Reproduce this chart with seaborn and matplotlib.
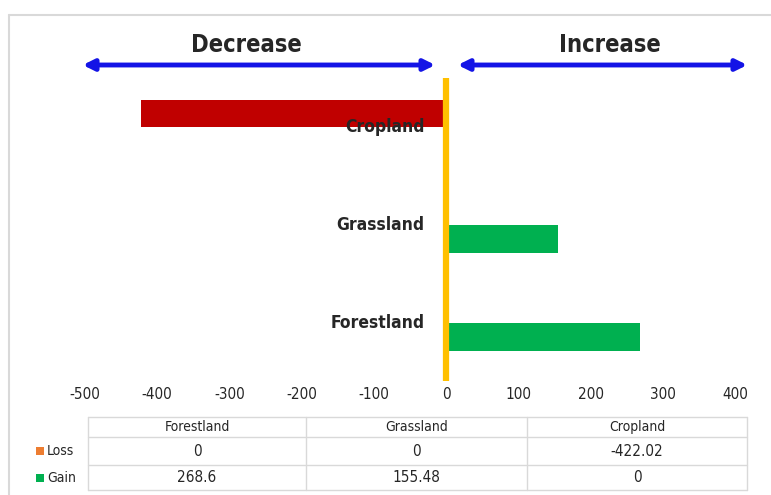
import matplotlib
matplotlib.use("Agg")
import matplotlib.pyplot as plt
from matplotlib import font_manager
from matplotlib.patches import Rectangle, FancyArrowPatch
from matplotlib.lines import Line2D
import seaborn as sns
import pandas as pd

# ---- data ----
land_types = ["Forestland", "Grassland", "Cropland"]
loss_values = [0, 0, -422.02]
gain_values = [268.6, 155.48, 0]
series_names = ["Loss", "Gain"]
x_ticks = [-500, -400, -300, -200, -100, 0, 100, 200, 300, 400]
direction_labels = ["Decrease", "Increase"]

W, H = 771, 495

sns.set_theme(style="white")
plt.rcParams["font.family"] = ["DejaVu Sans"]
plt.rcParams["font.stretch"] = "condensed"

df = pd.DataFrame({
    "land": land_types * 2,
    "series": ["Loss"] * 3 + ["Gain"] * 3,
    "value": loss_values + gain_values,
})

fig = plt.figure(figsize=(W / 100, H / 100), dpi=100)
fig.patch.set_facecolor("white")


def fx(x):
    return x / W


def fy(y):
    return 1 - y / H


ax_l, ax_r, ax_t, ax_b = 85, 735, 78, 381
ax = fig.add_axes([fx(ax_l), fy(ax_b), fx(ax_r) - fx(ax_l), fy(ax_t) - fy(ax_b)])

plot_order = ["Cropland", "Grassland", "Forestland"]
sns.barplot(data=df, x="value", y="land", hue="series", order=plot_order,
            hue_order=series_names, palette={"Loss": "#C00000", "Gain": "#00B050"},
            width=0.57, gap=0, saturation=1, linewidth=0, legend=False, ax=ax,
            errorbar=None)

ax.set_xlim(-500, 400)
ax.set_ylim(2.587, -0.505)
ax.axvline(0, color="#FFC000", lw=4.5, zorder=5)

ax.set_xticks(x_ticks)
ax.set_xticklabels([str(t) for t in x_ticks], fontsize=11, color="#262626",
                   fontstretch="condensed")
ax.tick_params(axis="x", length=0, pad=4)
ax.set_yticks([])
ax.set_xlabel("")
ax.set_ylabel("")
for s in ax.spines.values():
    s.set_visible(False)

# category names beside the zero line
for i, name in enumerate(plot_order):
    ax.text(-30, i, name, ha="right", va="center", fontsize=12.5,
            fontweight="bold", fontstretch="condensed", color="#262626", zorder=6)

# outer chart border
fig.add_artist(Line2D([fx(9), fx(9)], [fy(15), 0], color="#D9D9D9", lw=1.5))
fig.add_artist(Line2D([fx(9), 1], [fy(15), fy(15)], color="#D9D9D9", lw=1.5))

# direction arrows with captions
arrow_spans = [(80, 438, 246), (455, 750, 610)]
for (x0, x1, xc), label in zip(arrow_spans, direction_labels):
    fig.add_artist(FancyArrowPatch((fx(x0), fy(65)), (fx(x1), fy(65)),
                                   arrowstyle="<|-|>", mutation_scale=16,
                                   color="#1414E6", lw=3.5,
                                   transform=fig.transFigure))
    fig.text(fx(xc), fy(45), label, ha="center", va="center", fontsize=17,
             fontweight="bold", fontstretch="condensed", color="#262626")

# data table below the axis
grid_c = "#D9D9D9"
col_edges = [88, 306, 527, 747]
row_edges = [417, 437, 465, 490]
for y in row_edges:
    fig.add_artist(Line2D([fx(col_edges[0]), fx(col_edges[-1])], [fy(y), fy(y)],
                          color=grid_c, lw=1))
for x in col_edges:
    fig.add_artist(Line2D([fx(x), fx(x)], [fy(row_edges[0]), fy(row_edges[-1])],
                          color=grid_c, lw=1))

row_mid = [(row_edges[i] + row_edges[i + 1]) / 2 for i in range(3)]
for j, name in enumerate(land_types):
    xc = (col_edges[j] + col_edges[j + 1]) / 2
    fig.text(fx(xc), fy(row_mid[0]), name, ha="center", va="center",
             fontsize=10, fontstretch="condensed", color="#262626")
    fig.text(fx(xc), fy(row_mid[1]), f"{loss_values[j]:g}", ha="center",
             va="center", fontsize=11, fontstretch="condensed", color="#262626")
    fig.text(fx(xc), fy(row_mid[2]), f"{gain_values[j]:g}", ha="center",
             va="center", fontsize=11, fontstretch="condensed", color="#262626")

key_colors = ["#ED7D31", "#00B050"]
for k, (name, c) in enumerate(zip(series_names, key_colors)):
    ym = row_mid[k + 1]
    fig.add_artist(Rectangle((fx(36), fy(ym + 4)), fx(8), fy(0) - fy(8),
                             facecolor=c, edgecolor="none",
                             transform=fig.transFigure))
    fig.text(fx(47), fy(ym), name, ha="left", va="center", fontsize=10,
             fontstretch="condensed", color="#262626")

fig.savefig("out.png", dpi=100)
